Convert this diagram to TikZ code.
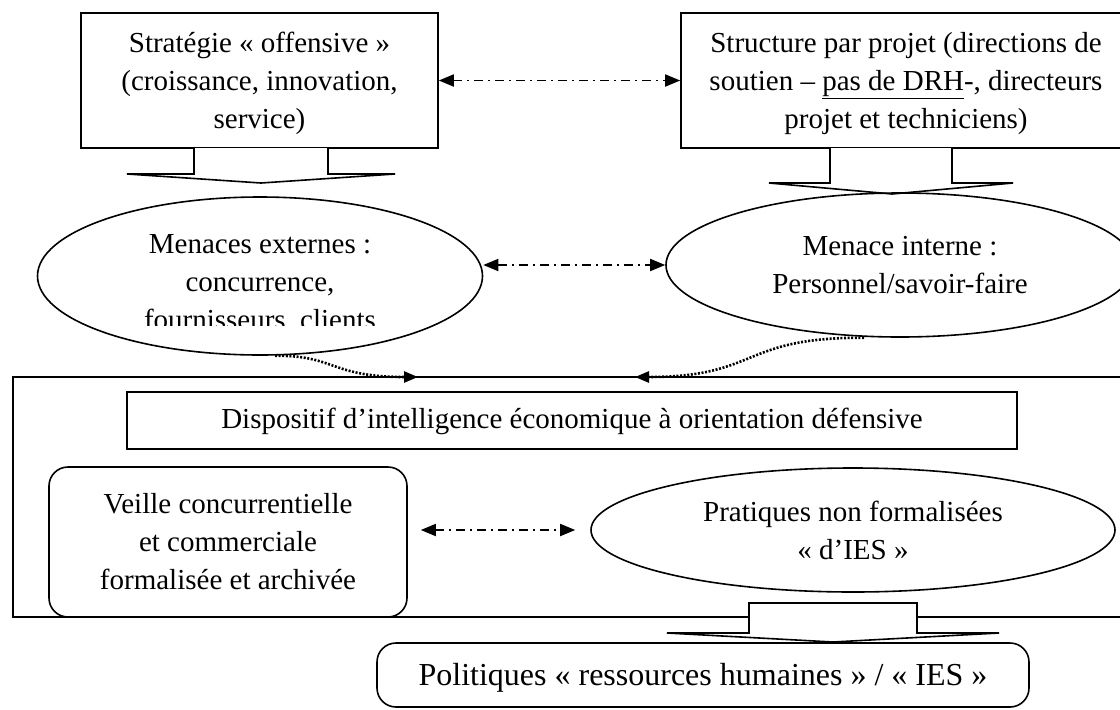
\documentclass[tikz,border=0pt]{standalone}
\usepackage{fontspec}
\setmainfont{Liberation Serif}
\usetikzlibrary{arrows.meta,shapes.geometric,calc}
\begin{document}
\begin{tikzpicture}[x=1pt,y=-1pt,
  txt/.style={font=\fontsize{29}{38}\selectfont, align=center, inner sep=0pt},
  sq/.style={draw, line width=1.6pt, rectangle, inner sep=0pt, txt},
  ell/.style={draw, line width=1.6pt, ellipse, inner sep=0pt, txt},
  rbox/.style={sq, rounded corners=19pt},
  dd/.style={line width=1.8pt, dash pattern=on 9pt off 5pt on 2pt off 5pt,
    {Triangle[length=15pt,width=12pt]}-{Triangle[length=15pt,width=12pt]}},
  dots/.style={line width=2.6pt, dash pattern=on 2pt off 1.6pt,
    -{Triangle[length=14pt,width=11pt]}},
  barrow/.style={draw, line width=1.6pt, fill=white, line join=miter}
]
\useasboundingbox (0,0) rectangle (1120,710);
\clip (0,0) rectangle (1120,710);
\fill[white] (0,0) rectangle (1120,710);

% top boxes
\node[sq, minimum width=357pt, minimum height=135pt] (s1) at (259.5,80.5)
  {\rule{0pt}{26pt}Stratégie «~offensive~»\\(croissance, innovation,\\service)};
\node[sq, minimum width=450pt, minimum height=135pt] (s2) at (906,80.5)
  {\rule{0pt}{27pt}Structure par projet (directions de\\soutien – \underline{pas de DRH}-, directeurs\\projet et techniciens)};
\draw[dd] (s1.east) -- (s2.west);

% block arrows from top boxes
\draw[barrow] (194,148) -- (194,174) -- (127,174) -- (261,183) -- (395,174) -- (328,174) -- (328,148);
\draw[barrow] (830,148) -- (830,183) -- (769,183) -- (892,194) -- (1013,183) -- (952,183) -- (952,148);

% threat ellipses
\node[ell, minimum width=445pt, minimum height=158pt] (e1) at (260,276) {};
\begin{scope}
  \clip (0,0) rectangle (1120,325);
  \node[txt] (t1) at (260,284) {Menaces externes :\\concurrence,\\fournisseurs, clients};
\end{scope}
\node[ell, minimum width=468pt, minimum height=144pt] (e2) at (900,265)
  {Menace interne :\\Personnel/savoir-faire};
\draw[dd] (e1.east |- e2.west) -- (e2.west);

% big frame
\node[draw, line width=1.6pt, rectangle, inner sep=0pt, minimum width=1117pt, minimum height=240pt] (big) at (571.5,497) {};
\coordinate (c1) at (418,377);
\coordinate (c2) at (635,377);
\draw[dots] ($(e1.south)+(15,0)$) .. controls (335,355) and (330,377) .. (c1);
\draw[dots] ($(e2.south)+(-36,0)$) .. controls (740,337) and (760,377) .. (c2);

\node[sq, minimum width=890pt, minimum height=57pt] (d) at (572,420.5)
  {\rule{0pt}{22pt}Dispositif d’intelligence économique à orientation défensive};
\node[rbox, minimum width=358pt, minimum height=150pt] (v) at (228,542)
  {Veille concurrentielle\\et commerciale\\formalisée et archivée};
\node[ell, minimum width=524pt, minimum height=124pt] (p) at (853,530)
  {Pratiques non formalisées\\«~d’IES~»};
\draw[dd, shorten <=13pt, shorten >=15pt] (v.east |- p.west) -- (p.west);

% bottom block arrow and box
\draw[barrow] (749,633) -- (749,603) -- (917,603) -- (917,633) -- (999,633) -- (833,642) -- (667,633) -- cycle;
\node[rbox, minimum width=652pt, minimum height=64pt, font=\fontsize{32}{38}\selectfont] (r) at (703,675)
  {\rule{0pt}{28pt}Politiques «~ressources humaines~» / «~IES~»};
\end{tikzpicture}
\end{document}
